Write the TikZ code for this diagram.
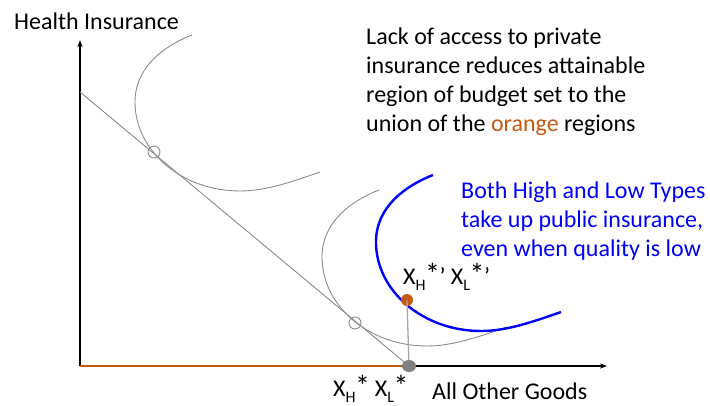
\documentclass[tikz,border=0pt]{standalone}
\usepackage{fontspec}
\setmainfont{Carlito}
\usetikzlibrary{arrows.meta,shapes.geometric}
\definecolor{orng}{HTML}{C55A11}
\definecolor{curvegray}{HTML}{8C8C8C}
\definecolor{dotgray}{HTML}{808080}
\definecolor{linegray}{HTML}{A6A6A6}
\tikzset{
  axis/.style={line width=1.1pt, -{Stealth[length=7pt,width=5pt]}},
  icurve/.style={curvegray, line width=0.9pt},
  bcurve/.style={blue, line width=2.4pt},
  tangent/.style={circle, draw=curvegray, line width=0.9pt, minimum size=12pt, inner sep=0pt},
  graydot/.style={ellipse, fill=dotgray, minimum width=14pt, minimum height=12pt, inner sep=0pt},
  lbl/.style={font=\fontsize{24}{29}\selectfont, inner sep=0pt, align=left},
}
\newcommand{\lsub}[1]{\raisebox{-6pt}{\fontsize{16}{16}\selectfont #1}}
\newcommand{\labast}{{\fontsize{30}{30}\selectfont\kern-0.5pt*\kern-0.5pt}}
\newcommand{\indiffpath}{(0,0) .. controls (-28,11) and (-57,32) .. (-57,67) .. controls (-57,116) and (-10,156) .. (48,156) .. controls (73,156) and (98,147.5) .. (128,137)}
\begin{document}
\begin{tikzpicture}[x=1pt,y=-1pt]
\useasboundingbox (0,0) rectangle (710,405);
% axes
\coordinate (origin) at (80,366);
\coordinate (ytip) at (80,40);
\coordinate (xtip) at (607,366);
\coordinate (bstart) at (80,92);
\coordinate (xstar) at (409,366);
\draw[axis] (xstar) -- (xtip);
\draw[axis] (origin) -- (ytip);
\draw[orng, line width=2.2pt] (origin) -- (xstar);
% budget line
\draw[curvegray, line width=0.9pt] (bstart) -- (xstar);
% indifference curves
\begin{scope}[shift={(192,35)}]
\draw[icurve] \indiffpath;
\end{scope}
\begin{scope}[shift={(379,190)}]
\draw[icurve] \indiffpath;
\end{scope}
\begin{scope}[shift={(433,175)}]
\draw[bcurve] \indiffpath;
\end{scope}
\node[tangent] (t1) at (154,152) {};
\node[tangent] (t2) at (355,323) {};
% public insurance point
\node[circle, fill=orng, minimum size=12pt, inner sep=0pt] (xprime) at (407,300) {};
\draw[linegray, line width=1.3pt] (xprime.center) -- (xstar);
\node[graydot] (xstardot) at (xstar) {};
% labels
\node[lbl, anchor=west] (ylab) at (14,21) {Health Insurance};
\node[lbl, anchor=west] (xlab) at (432,391) {All Other Goods};
\node[lbl, anchor=base west] (xslab) at (333,396) {X\lsub{H}\labast{} X\lsub{L}\labast};
\node[lbl, anchor=base west] (xplab) at (403,284) {X\lsub{H}\labast’ X\lsub{L}\labast’};
\node[lbl, anchor=north west] (note) at (366,28) {Lack of access to private\\insurance reduces attainable\\region of budget set to the\\union of the \textcolor{orng}{orange} regions};
\node[lbl, anchor=north west, text=blue] (bnote) at (461,182) {Both High and Low Types\\take up public insurance,\\even when quality is low};
\end{tikzpicture}
\end{document}
